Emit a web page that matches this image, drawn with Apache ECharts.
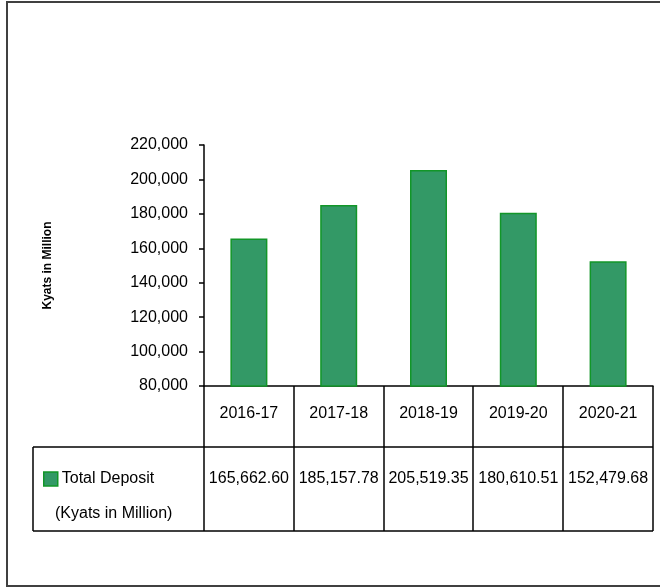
<!DOCTYPE html>
<html>
<head>
<meta charset="utf-8">
<script src="https://cdn.jsdelivr.net/npm/echarts@6/dist/echarts.min.js"></script>
<style>
  html, body { margin: 0; padding: 0; background: #fff; }
  #main { width: 660px; height: 587px; }
</style>
</head>
<body>
<div id="main"></div>
<script>
// data
const years = ['2016-17', '2017-18', '2018-19', '2019-20', '2020-21'];
const deposits = [165662.60, 185157.78, 205519.35, 180610.51, 152479.68];
const seriesName = 'Total Deposit';
const unitLabel = '(Kyats in Million)';
const yTitle = 'Kyats in Million';

// layout (pixels)
const plotLeft = 204, plotRight = 653, plotTop = 145, axisY = 386;
const rowSplit = 447, tableBottom = 531, tableLeft = 33;
const colW = (plotRight - plotLeft) / years.length;

const fmt = v => v.toLocaleString('en-US', { minimumFractionDigits: 2, maximumFractionDigits: 2 });

const chart = echarts.init(document.getElementById('main'));

// table grid lines
const lines = [];
const hLine = (x1, x2, y) => lines.push({ type: 'line', shape: { x1, y1: y, x2, y2: y }, style: { stroke: '#000', lineWidth: 1.5 } });
const vLine = (x, y1, y2) => lines.push({ type: 'line', shape: { x1: x, y1, x2: x, y2 }, style: { stroke: '#000', lineWidth: 1.5 } });
hLine(tableLeft, plotRight, rowSplit);
hLine(tableLeft, plotRight, tableBottom);
vLine(tableLeft, rowSplit, tableBottom);
for (let i = 0; i <= years.length; i++) {
    vLine(Math.round(plotLeft + i * colW), axisY, tableBottom);
}

const option = {
    backgroundColor: '#fff',
    animation: false,
    textStyle: { fontFamily: 'Liberation Sans, Arial, sans-serif' },
    grid: {
        left: plotLeft,
        right: 660 - plotRight,
        top: plotTop,
        bottom: 587 - axisY
    },
    legend: {
        data: [seriesName],
        left: 38,
        top: 466,
        icon: 'rect',
        itemWidth: 14,
        itemHeight: 14,
        itemGap: 4,
        textStyle: { fontSize: 16, color: '#000', padding: [0, 0, 0, -1] },
        itemStyle: { color: '#339966', borderColor: '#129628', borderWidth: 1.5 }
    },
    xAxis: {
        type: 'category',
        data: years,
        axisLine: { lineStyle: { color: '#000', width: 1.5 } },
        axisTick: { show: false },
        axisLabel: {
            margin: 1,
            interval: 0,
            formatter: (val, idx) => '{cat|' + val + '}\n{val|' + fmt(deposits[idx]) + '}',
            rich: {
                cat: { fontSize: 16, color: '#000', lineHeight: 54, fontFamily: 'Liberation Sans' },
                val: { fontSize: 16, color: '#000', lineHeight: 76, fontFamily: 'Liberation Sans' }
            }
        }
    },
    yAxis: {
        type: 'value',
        min: 80000,
        max: 220000,
        interval: 20000,
        name: yTitle,
        nameLocation: 'middle',
        nameGap: 150,
        nameTextStyle: { fontSize: 12, fontWeight: 'bold', color: '#000' },
        axisLine: { show: true, lineStyle: { color: '#000', width: 1.5 } },
        axisTick: { show: true, length: 5, lineStyle: { color: '#000', width: 1.5 } },
        splitLine: { show: false },
        axisLabel: {
            margin: 16,
            fontSize: 16,
            color: '#000',
            formatter: v => v.toLocaleString('en-US')
        }
    },
    series: [{
        name: seriesName,
        type: 'bar',
        data: deposits,
        barWidth: 37,
        itemStyle: { color: '#339966', borderColor: '#129628', borderWidth: 1.5 }
    }],
    graphic: [
        {
            type: 'rect',
            shape: { x: 7, y: 2, width: 700, height: 584 },
            style: { fill: null, stroke: '#404040', lineWidth: 2 },
            z: 100
        },
        ...lines,
        {
            type: 'text',
            left: 55,
            top: 506,
            style: { text: unitLabel, fontSize: 16, fill: '#000', fontFamily: 'Liberation Sans' }
        }
    ]
};

chart.setOption(option);
</script>
</body>
</html>
